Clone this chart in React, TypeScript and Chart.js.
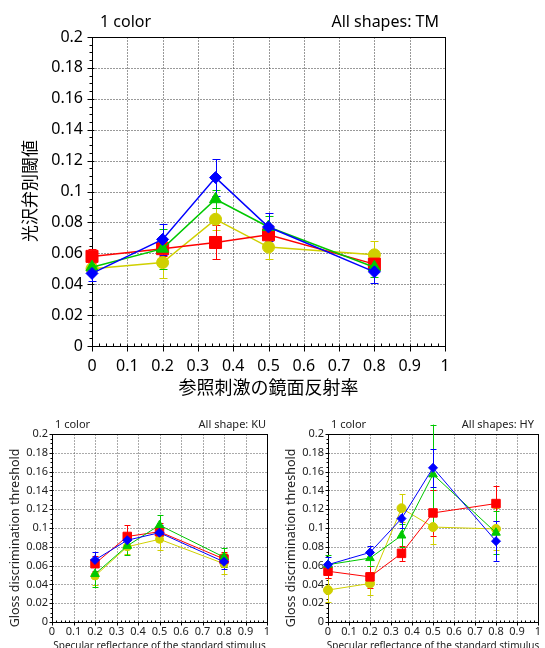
import React, { useEffect, useRef } from 'react';
import { Chart, registerables } from 'chart.js';

Chart.register(...registerables);

// ---------------- data ----------------
const xTicks = [0, 0.1, 0.2, 0.3, 0.4, 0.5, 0.6, 0.7, 0.8, 0.9, 1];
const yTicks = [0, 0.02, 0.04, 0.06, 0.08, 0.1, 0.12, 0.14, 0.16, 0.18, 0.2];

// Top panel: All shapes: TM
const tmX = [0, 0.2, 0.35, 0.5, 0.8];
const tmBlue = [0.047, 0.069, 0.109, 0.077, 0.048];
const tmBlueErr = [0.005, 0.01, 0.012, 0.009, 0.0075];
const tmGreen = [0.051, 0.063, 0.095, 0.077, 0.051];
const tmGreenErr = [0.004, 0.013, 0.006, 0.007, 0.0065];
const tmRed = [0.058, 0.063, 0.067, 0.072, 0.053];
const tmRedErr = [0.0045, 0.005, 0.011, 0.006, 0.005];
const tmYellow = [0.05, 0.054, 0.082, 0.064, 0.059];
const tmYellowErr = [0.003, 0.01, 0.007, 0.008, 0.009];

// Bottom-left panel: All shape: KU
const kuX = [0.2, 0.35, 0.5, 0.8];
const kuBlue = [0.066, 0.087, 0.095, 0.064];
const kuBlueErr = [0.008, 0.006, 0.008, 0.008];
const kuGreen = [0.051, 0.081, 0.103, 0.069];
const kuGreenErr = [0.014, 0.01, 0.011, 0.01];
const kuRed = [0.062, 0.091, 0.096, 0.067];
const kuRedErr = [0.008, 0.012, 0.009, 0.008];
const kuYellow = [0.049, 0.08, 0.088, 0.062];
const kuYellowErr = [0.01, 0.008, 0.011, 0.011];

// Bottom-right panel: All shapes: HY
const hyX = [0, 0.2, 0.35, 0.5, 0.8];
const hyBlue = [0.061, 0.074, 0.11, 0.164, 0.086];
const hyBlueErr = [0.008, 0.007, 0.01, 0.02, 0.021];
const hyGreen = [0.061, 0.068, 0.092, 0.157, 0.095];
const hyGreenErr = [0.01, 0.008, 0.012, 0.053, 0.023];
const hyRed = [0.054, 0.048, 0.073, 0.116, 0.126];
const hyRedErr = [0.007, 0.012, 0.008, 0.024, 0.019];
const hyYellow = [0.034, 0.041, 0.121, 0.101, 0.099];
const hyYellowErr = [0.013, 0.012, 0.015, 0.018, 0.022];

// ---------------- styles ----------------
const BLUE = '#0000ff';
const GREEN = '#00c800';
const RED = '#ff0000';
const YELLOW = '#d0d000';

const LATIN = "'Noto Sans', 'DejaVu Sans', sans-serif";
const CJK = "'Noto Sans CJK JP', sans-serif";

type Series = { values: number[]; err: number[]; color: string; style: string; radius: number };

type PanelSpec = {
  id: string;
  x: number[];
  series: Series[];
  area: { left: number; top: number; right: number; bottom: number };
  headerLeft: string;
  headerRight: string;
  headerFont: string;
  headerBaseline: number;
  headerLeftInset: number;
  headerRightInset: number;
  textColor: string;
  xTitle: string;
  xTitleFont: string;
  xTitleY: number;
  yTitle: string;
  yTitleFont: string;
  yTitleX: number;
  yTitleY: number;
  tickFontSize: number;
  yTickPad: number;
  xTickPad: number;
  lineWidth: number;
  errCap: number;
  majorOut: number;
  majorIn: number;
  minorLen: number;
  gridColor: string;
};

function mk(values: number[], err: number[], color: string, style: string, radius: number): Series {
  return { values, err, color, style, radius };
}

const PANELS: PanelSpec[] = [
  {
    id: 'tm',
    x: tmX,
    series: [
      mk(tmBlue, tmBlueErr, BLUE, 'rectRot', 6),
      mk(tmGreen, tmGreenErr, GREEN, 'triangle', 7),
      mk(tmRed, tmRedErr, RED, 'rect', 8.5),
      mk(tmYellow, tmYellowErr, YELLOW, 'circle', 6),
    ],
    area: { left: 92, top: 37, right: 445, bottom: 346 },
    headerLeft: '1 color',
    headerRight: 'All shapes: TM',
    headerFont: `16px ${LATIN}`,
    headerBaseline: 27,
    headerLeftInset: 8,
    headerRightInset: 6,
    textColor: '#000',
    xTitle: '参照刺激の鏡面反射率',
    xTitleFont: `18px ${CJK}`,
    xTitleY: 387,
    yTitle: '光沢弁別閾値',
    yTitleFont: `17px ${CJK}`,
    yTitleX: 30,
    yTitleY: 191,
    tickFontSize: 16,
    yTickPad: 9,
    xTickPad: 11,
    lineWidth: 1.5,
    errCap: 4,
    majorOut: 5,
    majorIn: 2,
    minorLen: 3,
    gridColor: '#333',
  },
  {
    id: 'ku',
    x: kuX,
    series: [
      mk(kuBlue, kuBlueErr, BLUE, 'rectRot', 4.5),
      mk(kuGreen, kuGreenErr, GREEN, 'triangle', 5),
      mk(kuRed, kuRedErr, RED, 'rect', 6),
      mk(kuYellow, kuYellowErr, YELLOW, 'circle', 4),
    ],
    area: { left: 52, top: 434, right: 267, bottom: 622 },
    headerLeft: '1 color',
    headerRight: 'All shape: KU',
    headerFont: `11px ${LATIN}`,
    headerBaseline: 428,
    headerLeftInset: 3,
    headerRightInset: 1,
    textColor: '#222',
    xTitle: 'Specular reflectance of the standard stimulus',
    xTitleFont: `10px ${LATIN}`,
    xTitleY: 646,
    yTitle: 'Gloss discrimination threshold',
    yTitleFont: `12.5px ${LATIN}`,
    yTitleX: 15,
    yTitleY: 538,
    tickFontSize: 11,
    yTickPad: 4,
    xTickPad: 3,
    lineWidth: 1,
    errCap: 3,
    majorOut: 3,
    majorIn: 1,
    minorLen: 2,
    gridColor: '#555',
  },
  {
    id: 'hy',
    x: hyX,
    series: [
      mk(hyBlue, hyBlueErr, BLUE, 'rectRot', 4.5),
      mk(hyGreen, hyGreenErr, GREEN, 'triangle', 5),
      mk(hyRed, hyRedErr, RED, 'rect', 6),
      mk(hyYellow, hyYellowErr, YELLOW, 'circle', 4.5),
    ],
    area: { left: 328, top: 434, right: 543, bottom: 622 },
    headerLeft: '1 color',
    headerRight: 'All shapes: HY',
    headerFont: `11px ${LATIN}`,
    headerBaseline: 428,
    headerLeftInset: 3,
    headerRightInset: 4,
    textColor: '#222',
    xTitle: 'Specular reflectance of the standard stimulus',
    xTitleFont: `10px ${LATIN}`,
    xTitleY: 646,
    yTitle: 'Gloss discrimination threshold',
    yTitleFont: `12.5px ${LATIN}`,
    yTitleX: 291,
    yTitleY: 538,
    tickFontSize: 11,
    yTickPad: 4,
    xTickPad: 3,
    lineWidth: 1,
    errCap: 3,
    majorOut: 3,
    majorIn: 1,
    minorLen: 2,
    gridColor: '#555',
  },
];

const W = 545;
const H = 648;
const X_MINOR = 0.02;
const Y_MINOR = 0.005;

function px(v: number) {
  return Math.round(v) + 0.5;
}

function makeConfig(p: PanelSpec): any {
  const a = p.area;
  const xAxisH = H - a.bottom;
  const datasets = p.series.map((s) => ({
    data: p.x.map((x, i) => ({ x, y: s.values[i] })),
    errors: s.err,
    borderColor: s.color,
    backgroundColor: s.color,
    pointBackgroundColor: s.color,
    pointBorderColor: s.color,
    pointStyle: s.style,
    pointRadius: s.radius,
    pointHoverRadius: s.radius,
    pointBorderWidth: 1,
    borderWidth: p.lineWidth,
    fill: false,
    tension: 0,
    clip: false,
  }));

  const decor = {
    id: 'decor_' + p.id,
    beforeDatasetsDraw(chart: any) {
      const { ctx, chartArea: ca, scales } = chart;
      const xs = scales.x;
      const ys = scales.y;
      const L = px(ca.left);
      const R = px(ca.right);
      const T = px(ca.top);
      const B = px(ca.bottom);
      ctx.save();
      // dotted grid at major ticks
      ctx.strokeStyle = p.gridColor;
      ctx.lineWidth = 1;
      ctx.setLineDash([1, 2]);
      xTicks.forEach((v) => {
        const X = px(xs.getPixelForValue(v));
        if (Math.abs(X - L) < 1 || Math.abs(X - R) < 1) return;
        ctx.beginPath();
        ctx.moveTo(X, T);
        ctx.lineTo(X, B);
        ctx.stroke();
      });
      yTicks.forEach((v) => {
        const Y = px(ys.getPixelForValue(v));
        if (Math.abs(Y - T) < 1 || Math.abs(Y - B) < 1) return;
        ctx.beginPath();
        ctx.moveTo(L, Y);
        ctx.lineTo(R, Y);
        ctx.stroke();
      });
      ctx.setLineDash([]);
      // frame
      ctx.strokeStyle = '#000';
      ctx.lineWidth = 1;
      ctx.strokeRect(L, T, R - L, B - T);
      // y ticks
      const yMin = ys.min;
      const yMax = ys.max;
      const nY = Math.round((yMax - yMin) / Y_MINOR);
      for (let k = 0; k <= nY; k++) {
        const v = yMin + k * Y_MINOR;
        const Y = px(ys.getPixelForValue(v));
        const major = yTicks.some((t) => Math.abs(t - v) < 1e-9);
        ctx.beginPath();
        if (major) {
          ctx.moveTo(L - p.majorOut, Y);
          ctx.lineTo(L + p.majorIn, Y);
        } else {
          ctx.moveTo(L - p.minorLen, Y);
          ctx.lineTo(L, Y);
        }
        ctx.stroke();
      }
      // x ticks
      const xMin = xs.min;
      const xMax = xs.max;
      const nX = Math.round((xMax - xMin) / X_MINOR);
      for (let k = 0; k <= nX; k++) {
        const v = xMin + k * X_MINOR;
        const X = px(xs.getPixelForValue(v));
        const major = xTicks.some((t) => Math.abs(t - v) < 1e-9);
        ctx.beginPath();
        if (major) {
          ctx.moveTo(X, B + p.majorOut);
          ctx.lineTo(X, B - p.majorIn);
        } else {
          ctx.moveTo(X, B);
          ctx.lineTo(X, B - p.minorLen);
        }
        ctx.stroke();
      }
      // error bars (last dataset first so dataset 0 ends on top)
      for (let i = chart.data.datasets.length - 1; i >= 0; i--) {
        const ds = chart.data.datasets[i];
        ctx.strokeStyle = ds.borderColor;
        ctx.lineWidth = 1;
        ds.data.forEach((pt: any, j: number) => {
          const e = ds.errors[j];
          const X = px(xs.getPixelForValue(pt.x));
          const y1 = ys.getPixelForValue(pt.y + e);
          const y2 = ys.getPixelForValue(pt.y - e);
          ctx.beginPath();
          ctx.moveTo(X, y1);
          ctx.lineTo(X, y2);
          ctx.moveTo(X - p.errCap, px(y1));
          ctx.lineTo(X + p.errCap, px(y1));
          ctx.moveTo(X - p.errCap, px(y2));
          ctx.lineTo(X + p.errCap, px(y2));
          ctx.stroke();
        });
      }
      ctx.restore();
    },
    afterDraw(chart: any) {
      const { ctx, chartArea: ca } = chart;
      ctx.save();
      ctx.fillStyle = p.textColor;
      ctx.font = p.headerFont;
      ctx.textBaseline = 'alphabetic';
      ctx.textAlign = 'left';
      ctx.fillText(p.headerLeft, ca.left + p.headerLeftInset, p.headerBaseline);
      ctx.textAlign = 'right';
      ctx.fillText(p.headerRight, ca.right - p.headerRightInset, p.headerBaseline);
      // x title
      ctx.textAlign = 'center';
      ctx.textBaseline = 'middle';
      ctx.font = p.xTitleFont;
      ctx.fillText(p.xTitle, (ca.left + ca.right) / 2, p.xTitleY);
      // y title
      ctx.font = p.yTitleFont;
      ctx.translate(p.yTitleX, p.yTitleY);
      ctx.rotate(-Math.PI / 2);
      ctx.fillText(p.yTitle, 0, 0);
      ctx.restore();
    },
  };

  return {
    type: 'line',
    data: { datasets },
    options: {
      responsive: false,
      animation: false,
      events: [],
      layout: {
        padding: { left: 0, top: a.top, right: W - a.right, bottom: 0 },
      },
      plugins: { legend: { display: false }, tooltip: { enabled: false }, title: { display: false } },
      scales: {
        x: {
          type: 'linear',
          min: 0,
          max: 1,
          grid: { display: false, drawTicks: false },
          border: { display: false },
          afterBuildTicks: (s: any) => {
            s.ticks = xTicks.map((v) => ({ value: v }));
          },
          ticks: {
            autoSkip: false,
            maxRotation: 0,
            padding: p.xTickPad,
            color: p.textColor,
            font: { family: LATIN, size: p.tickFontSize },
            callback: (v: number) => String(v),
          },
          afterFit: (s: any) => {
            s.height = xAxisH;
            s.paddingLeft = 0;
            s.paddingRight = 0;
          },
        },
        y: {
          type: 'linear',
          min: 0,
          max: 0.2,
          grid: { display: false, drawTicks: false },
          border: { display: false },
          afterBuildTicks: (s: any) => {
            s.ticks = yTicks.map((v) => ({ value: v }));
          },
          ticks: {
            autoSkip: false,
            padding: p.yTickPad,
            color: p.textColor,
            font: { family: LATIN, size: p.tickFontSize },
            callback: (v: number) => String(v),
          },
          afterFit: (s: any) => {
            s.width = a.left;
            s.paddingTop = 0;
            s.paddingBottom = 0;
          },
        },
      },
    },
    plugins: [decor],
  };
}

function Panel({ spec }: { spec: PanelSpec }) {
  const ref = useRef<HTMLCanvasElement>(null);
  useEffect(() => {
    const chart = new Chart(ref.current as HTMLCanvasElement, makeConfig(spec));
    return () => chart.destroy();
  }, [spec]);
  return (
    <canvas
      ref={ref}
      width={W}
      height={H}
      style={{ position: 'absolute', left: 0, top: 0, width: W, height: H }}
    />
  );
}

export default function App() {
  return (
    <div
      style={{
        position: 'absolute',
        left: 0,
        top: 0,
        width: W,
        height: H,
        background: '#fff',
        overflow: 'hidden',
      }}
    >
      {PANELS.map((p) => (
        <Panel key={p.id} spec={p} />
      ))}
    </div>
  );
}
